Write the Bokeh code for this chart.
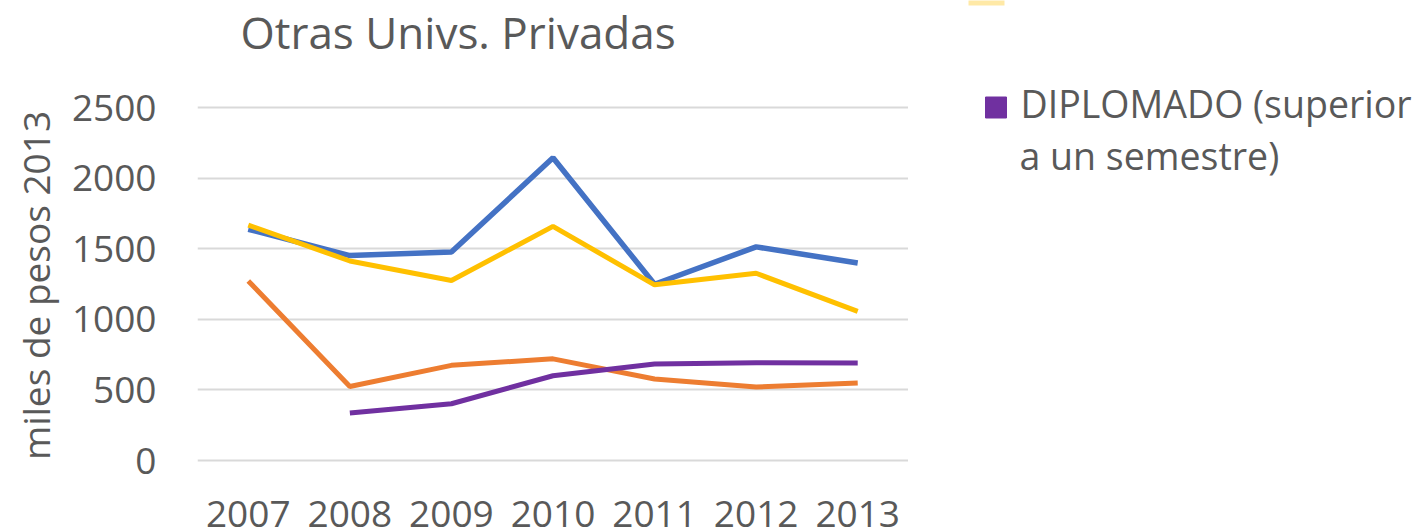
import math
from bokeh.plotting import figure
from bokeh.models import (FactorRange, Range1d, FixedTicker, LabelSet, ColumnDataSource)
from bokeh.layouts import row
from bokeh.embed import file_html
from bokeh.resources import INLINE
from bokeh.core.properties import value

years = ["2007", "2008", "2009", "2010", "2011", "2012", "2013"]
blue_vals = [1638, 1451, 1477, 2144, 1248, 1513, 1399]
yellow_vals = [1667, 1413, 1275, 1658, 1244, 1326, 1056]
orange_vals = [1272, 524, 674, 720, 577, 521, 548]
purple_years = ["2008", "2009", "2010", "2011", "2012", "2013"]
purple_vals = [336, 402, 600, 683, 692, 691]
y_ticks = [0, 500, 1000, 1500, 2000, 2500]
legend_label = ["DIPLOMADO (superior", "a un semestre)"]
title_text = "Otras Univs. Privadas"
y_label = "miles de pesos 2013"

TXT = "#595959"
FONT = "Open Sans"

# layout (page pixels)
H = 529
LW = 64                              # width of the y-label strip
FRAME_L, FRAME_R = 197, 908
Y0_PX, YTOP_PX = 460, 107            # pixel rows of value 0 and of value 2500
k = (Y0_PX - YTOP_PX) / 2500.0       # pixels per unit
y_start = -(H - Y0_PX) / k
y_end = Y0_PX / k

def bare(fig):
    fig.outline_line_color = None
    fig.xgrid.grid_line_color = None
    fig.ygrid.grid_line_color = None
    fig.border_fill_color = "white"
    fig.background_fill_color = "white"

# ---- y label strip
lf = figure(width=LW, height=H, x_range=Range1d(0, LW), y_range=Range1d(0, H),
            output_backend="svg", toolbar_location=None, min_border=0,
            x_axis_location=None, y_axis_location=None)
bare(lf)
lsrc = ColumnDataSource(data=dict(x=[49], y=[H - 285], t=[y_label]))
lf.add_layout(LabelSet(x="x", y="y", text="t", source=lsrc, angle=math.pi / 2,
                       text_font=value(FONT), text_font_size="37px", text_color=TXT,
                       text_align="center", text_baseline="alphabetic"))

# ---- main chart
p = figure(x_range=FactorRange(*years, range_padding=0), y_range=Range1d(y_start, y_end),
           width=FRAME_R - LW, height=H, output_backend="svg", toolbar_location=None,
           x_axis_location=None,
           min_border_left=FRAME_L - LW, min_border_right=0, min_border_top=0, min_border_bottom=0)
p.outline_line_color = None
p.background_fill_color = "white"
p.border_fill_color = "white"

p.line(years, blue_vals, line_color="#4472C4", line_width=5.5)
p.line(years, yellow_vals, line_color="#FFC000", line_width=5)
p.line(years, orange_vals, line_color="#ED7D31", line_width=5)
p.line(purple_years, purple_vals, line_color="#7030A0", line_width=5)

p.xgrid.grid_line_color = None
p.ygrid.ticker = FixedTicker(ticks=y_ticks)
p.ygrid.grid_line_color = "#D9D9D9"
p.ygrid.grid_line_width = 2

ya = p.yaxis[0]
ya.ticker = FixedTicker(ticks=y_ticks)
ya.axis_line_color = None
ya.major_tick_line_color = None
ya.minor_tick_line_color = None
ya.major_label_text_font = FONT
ya.major_label_text_font_size = "37px"
ya.major_label_text_color = TXT
ya.major_label_standoff = 35

# category labels, positioned with the x scale
xsrc = ColumnDataSource(data=dict(x=years, t=years))
p.add_layout(LabelSet(x="x", y=H - 526, y_units="screen", text="t", source=xsrc,
                      text_font=value(FONT), text_font_size="37px", text_color=TXT,
                      text_align="center", text_baseline="alphabetic"))

# title
tsrc = ColumnDataSource(data=dict(x=[240 - FRAME_L], y=[H - 48], t=[title_text]))
p.add_layout(LabelSet(x="x", y="y", x_units="screen", y_units="screen", text="t", source=tsrc,
                      text_font=value(FONT), text_font_size="44px", text_color=TXT,
                      text_align="left", text_baseline="alphabetic"))

# ---- legend panel, drawn in page-pixel coordinates
W2 = 1415 - FRAME_R
lg = figure(width=W2, height=H, x_range=Range1d(FRAME_R, 1415), y_range=Range1d(H, 0),
            output_backend="svg", toolbar_location=None, min_border=0,
            x_axis_location=None, y_axis_location=None)
bare(lg)
lg.segment(x0=[968], y0=[2], x1=[1004], y1=[2], line_color="#FFC000", line_width=6, line_alpha=0.35)
lg.scatter(x=[995.5], y=[107], marker="square", size=21, color="#7030A0")
gsrc = ColumnDataSource(data=dict(x=[1020, 1019], y=[117, 169], t=legend_label))
lg.add_layout(LabelSet(x="x", y="y", text="t", source=gsrc,
                       text_font=value(FONT), text_font_size="37.5px", text_color=TXT,
                       text_align="left", text_baseline="alphabetic"))

layout = row(lf, p, lg)
open("out.html", "w").write(file_html(layout, INLINE))
